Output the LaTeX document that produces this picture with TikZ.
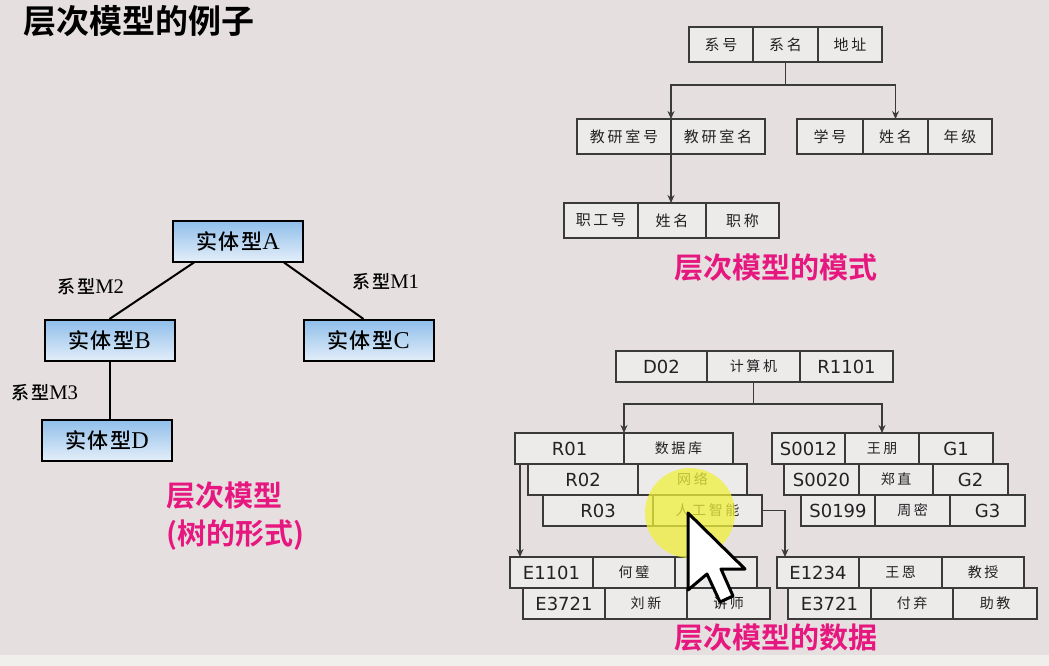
\documentclass[tikz,border=0pt]{standalone}
\usepackage{fontspec}
\setmainfont{Noto Sans CJK SC}
\newfontfamily\cjkbold{Noto Sans CJK SC Bold}
\newfontfamily\cjkmed[LetterSpace=8]{Noto Sans CJK SC Medium}
\newfontfamily\cjkcell[LetterSpace=18]{Noto Sans CJK SC}
\newfontfamily\latsans{DejaVu Sans}
\newfontfamily\latserif[Scale=1.15]{Liberation Serif}
\usetikzlibrary{positioning,arrows.meta}

\definecolor{bgc}{HTML}{E6DFDF}
\definecolor{stripc}{HTML}{F0EFEC}
\definecolor{linec}{HTML}{3A3A3A}
\definecolor{cellc}{HTML}{EDEAEA}
\definecolor{textc}{HTML}{222222}
\definecolor{treetop}{HTML}{8FBEEA}
\definecolor{treebot}{HTML}{E3EEF9}
\definecolor{pinkc}{HTML}{E6187F}
\definecolor{hilite}{HTML}{F0F03C}

\tikzset{
  cell/.style={draw=linec, fill=cellc, line width=1.8pt, inner sep=0pt, outer sep=0pt, text=textc},
  schema/.style={cell, minimum height=35pt, font=\cjkcell\fontsize{15}{17}\selectfont},
  datalat/.style={cell, minimum height=31pt, font=\latsans\fontsize{18}{20}\selectfont},
  datazh/.style={cell, minimum height=31pt, font=\cjkcell\fontsize{14}{16}\selectfont},
  entity/.style={draw=black, line width=2pt, top color=treetop, bottom color=treebot,
    minimum width=130pt, minimum height=41pt, font=\cjkmed\fontsize{21}{24}\selectfont},
  rel/.style={font=\cjkmed\fontsize{18}{20}\selectfont},
  note/.style={text=pinkc, font=\cjkbold\fontsize{29}{38}\selectfont},
  tree/.style={draw=black, line width=2pt},
  stem/.style={draw=linec, line width=1.8pt},
  link/.style={stem, -{Stealth[length=8pt,width=7pt]}},
}

\begin{document}
\begin{tikzpicture}[x=1pt, y=-1pt]
\fill[bgc] (0,0) rectangle (1049,655);
\fill[stripc] (0,655) rectangle (1049,666);
\useasboundingbox (0,0) rectangle (1049,666);

\node[font=\cjkbold\fontsize{33}{40}\selectfont, anchor=west] (title) at (20,21) {层次模型的例子};

% tree form
\node[entity] (ea) at (238,241) {实体型{\latserif A}};
\node[entity] (eb) at (109.5,340.5) {实体型{\latserif B}};
\node[entity] (ec) at (368.5,340.5) {实体型{\latserif C}};
\node[entity] (ed) at (107,440) {实体型{\latserif D}};
\draw[tree] ([xshift=22pt]ea.south west) -- (eb.north);
\draw[tree] ([xshift=-20pt]ea.south east) -- ([xshift=-5pt]ec.north);
\draw[tree] (eb.south) -- (eb.south |- ed.north);
\node[rel] (m2) at (91,287) {系型{\latserif M2}};
\node[rel] (m1) at (386,282) {系型{\latserif M1}};
\node[rel] (m3) at (45,393) {系型{\latserif M3}};
\node[note, align=left, anchor=west] (treenote) at (163,516) {层次模型\\(树的形式)};

% schema
\node[schema, minimum width=64pt, anchor=north west] (xh) at (689,27) {系号};
\node[schema, minimum width=65pt, right=0pt of xh] (xm) {系名};
\node[schema, minimum width=64pt, right=0pt of xm] (dz) {地址};
\node[schema, minimum width=94pt, anchor=north west] (jysh) at (577,119) {教研室号};
\node[schema, minimum width=94pt, right=0pt of jysh] (jysm) {教研室名};
\node[schema, minimum width=66pt, anchor=north west] (xueh) at (797,119) {学号};
\node[schema, minimum width=65pt, right=0pt of xueh] (xsxm) {姓名};
\node[schema, minimum width=64pt, right=0pt of xsxm] (nj) {年级};
\node[schema, minimum width=74pt, anchor=north west] (zgh) at (564,203) {职工号};
\node[schema, minimum width=68pt, right=0pt of zgh] (jsxm) {姓名};
\node[schema, minimum width=73pt, right=0pt of jsxm] (zc) {职称};
\draw[stem] (xm.south) -- ++(0,23) coordinate (fork1);
\draw[link] (fork1) -| (jysh.north east);
\draw[link] (fork1) -| (xsxm.north);
\draw[link] (jysh.south east) -- (jysh.south east |- jsxm.north);
\node[note] (schemanote) at (776,268) {层次模型的模式};

% data
\node[datalat, minimum width=91pt, anchor=north west] (d02) at (616,351) {D02};
\node[datazh, minimum width=93pt, right=0pt of d02] (jsj) {计算机};
\node[datalat, minimum width=93pt, right=0pt of jsj] (r1101) {R1101};

\node[datalat, minimum width=109pt, anchor=north west] (r01) at (515,433) {R01};
\node[datazh, minimum width=109pt, right=0pt of r01] (sjk) {数据库};
\node[datalat, minimum width=110pt, anchor=north west] (r02) at (528,464) {R02};
\node[datazh, minimum width=109pt, right=0pt of r02] (wl) {网络};
\node[datalat, minimum width=110pt, anchor=north west] (r03) at (543,495) {R03};
\node[datazh, minimum width=109pt, right=0pt of r03] (rgzn) {人工智能};

\node[datalat, minimum width=73pt, anchor=north west] (s0012) at (772,433) {S0012};
\node[datazh, minimum width=74pt, right=0pt of s0012] (wp) {王朋};
\node[datalat, minimum width=74pt, right=0pt of wp] (g1) {G1};
\node[datalat, minimum width=75pt, anchor=north west] (s0020) at (784,464) {S0020};
\node[datazh, minimum width=74pt, right=0pt of s0020] (zz) {郑直};
\node[datalat, minimum width=75pt, right=0pt of zz] (g2) {G2};
\node[datalat, minimum width=74pt, anchor=north west] (s0199) at (801,495) {S0199};
\node[datazh, minimum width=75pt, right=0pt of s0199] (zm) {周密};
\node[datalat, minimum width=75pt, right=0pt of zm] (g3) {G3};

\node[datalat, minimum width=83pt, anchor=north west] (e1101) at (510,557) {E1101};
\node[datazh, minimum width=82pt, right=0pt of e1101] (hb) {何璧};
\node[datazh, minimum width=82pt, right=0pt of hb] (hbzc) {};
\node[datalat, minimum width=82pt, anchor=north west] (e3721) at (523,588) {E3721};
\node[datazh, minimum width=82pt, right=0pt of e3721] (lx) {刘新};
\node[datazh, minimum width=83pt, right=0pt of lx] (js) {讲师};

\node[datalat, minimum width=82pt, anchor=north west] (e1234) at (777,557) {E1234};
\node[datazh, minimum width=83pt, right=0pt of e1234] (we) {王恩};
\node[datazh, minimum width=82pt, right=0pt of we] (jsh) {教授};
\node[datalat, minimum width=83pt, anchor=north west] (e3721b) at (788,588) {E3721};
\node[datazh, minimum width=82pt, right=0pt of e3721b] (fq) {付弃};
\node[datazh, minimum width=84pt, right=0pt of fq] (zj) {助教};

\draw[stem] (jsj.south) -- ++(0,22) coordinate (fork2);
\draw[link] (fork2) -| (r01.north east);
\draw[link] (fork2) -| (wp.north);
\path ([xshift=5pt]r01.south west) coordinate (rdrop);
\draw[link] (rdrop) -- (rdrop |- e1101.north);
\draw[link] (rgzn.east) -| ([xshift=8pt]e1234.north west);
\node[note] (datanote) at (776,638) {层次模型的数据};

% pointer
\fill[hilite, opacity=0.75] (690,513) circle[radius=45];
\draw[fill=white, line width=3pt, line join=round] (688,513) -- (688,590) -- (707,574) -- (720,602) -- (733,596) -- (721,569) -- (745,569) -- cycle;
\end{tikzpicture}
\end{document}
